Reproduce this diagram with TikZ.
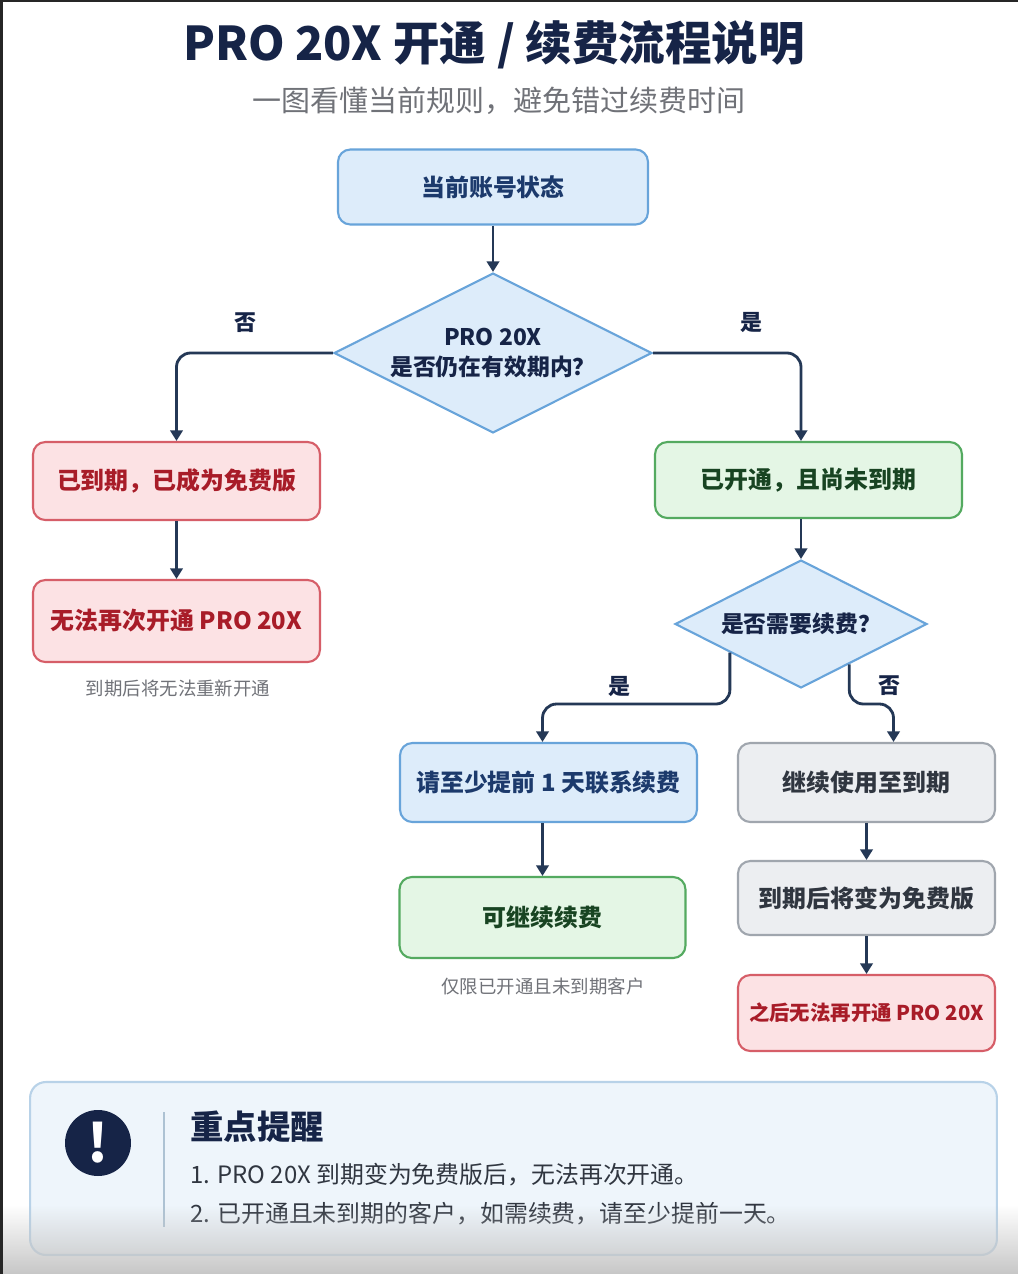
\documentclass[tikz,border=0pt]{standalone}
\usepackage{fontspec}
\setmainfont{Noto Sans CJK SC}
\usepackage{tikz}
\usetikzlibrary{shapes.geometric,arrows.meta,calc,fadings}

\definecolor{navy}{RGB}{22,36,71}
\definecolor{flowline}{RGB}{36,56,86}
\definecolor{fillblue}{RGB}{221,236,250}
\definecolor{lineblue}{RGB}{104,164,218}
\definecolor{txtblue}{RGB}{28,58,108}
\definecolor{fillred}{RGB}{252,226,228}
\definecolor{linered}{RGB}{214,94,104}
\definecolor{txtred}{RGB}{168,28,40}
\definecolor{fillgreen}{RGB}{228,246,229}
\definecolor{linegreen}{RGB}{84,170,96}
\definecolor{txtgreen}{RGB}{24,68,34}
\definecolor{fillgray}{RGB}{236,238,241}
\definecolor{linegray}{RGB}{160,166,174}
\definecolor{txtgray}{RGB}{48,54,64}
\definecolor{notegray}{RGB}{112,114,120}
\definecolor{fillpanel}{RGB}{238,245,251}
\definecolor{linepanel}{RGB}{184,210,232}

\tikzset{
  box/.style={rectangle, rounded corners=7pt, line width=1.2pt, align=center,
    font=\bfseries\fontsize{13.6}{16}\selectfont},
  bluebox/.style={box, draw=lineblue, fill=fillblue, text=txtblue},
  redbox/.style={box, draw=linered, fill=fillred, text=txtred},
  greenbox/.style={box, draw=linegreen, fill=fillgreen, text=txtgreen},
  graybox/.style={box, draw=linegray, fill=fillgray, text=txtgray},
  qdiamond/.style={diamond, aspect=2, inner sep=0pt, line width=1.2pt, draw=lineblue,
    fill=fillblue, text=navy, align=center, font=\bfseries\fontsize{13}{17.6}\selectfont},
  flow/.style={draw=flowline, line width=1.6pt, rounded corners=8pt,
    -{Triangle[length=6pt,width=7pt]}},
  branch/.style={text=navy, font=\bfseries\fontsize{12.5}{14}\selectfont},
  note/.style={text=notegray, font=\fontsize{10.5}{12}\selectfont},
  tip/.style={anchor=west, inner sep=0pt, text=txtgray, font=\fontsize{13.6}{16}\selectfont}
}

\begin{document}
\begin{tikzpicture}[x=0.02cm, y=-0.02cm]
  \useasboundingbox (0,0) rectangle (1018,1274);
  \fill[white] (0,0) rectangle (1018,1274);
  \fill[black!85] (0,0) rectangle (3,1274);
  \fill[black!85] (0,0) rectangle (1018,2);

  \node[text=navy, font=\bfseries\fontsize{26.5}{30}\selectfont] (title) at (494,45) {PRO 20X 开通 / 续费流程说明};
  \node[text=notegray, font=\fontsize{16.5}{20}\selectfont] (subtitle) at (499,101) {一图看懂当前规则，避免错过续费时间};

  \node[bluebox, minimum width=6.2cm, minimum height=1.5cm] (state) at (493,187) {当前账号状态};
  \node[qdiamond, minimum width=6.36cm, minimum height=3.2cm] (valid) at (493,353) {PRO 20X\\是否仍在有效期内？};
  \node[redbox, minimum width=5.74cm, minimum height=1.56cm] (expired) at (176.5,481) {已到期，已成为免费版};
  \node[redbox, minimum width=5.74cm, minimum height=1.64cm] (noreopen) at (176.5,621) {无法再次开通 PRO 20X};
  \node[note] (note1) at (178,688) {到期后将无法重新开通};
  \node[greenbox, minimum width=6.14cm, minimum height=1.52cm] (active) at (808.5,480) {已开通，且尚未到期};
  \node[qdiamond, minimum width=5.04cm, minimum height=2.56cm] (renewq) at (801,624) {是否需要续费？};
  \node[bluebox, minimum width=5.94cm, minimum height=1.58cm] (contact) at (548.5,782.5) {请至少提前 1 天联系续费};
  \node[greenbox, minimum width=5.72cm, minimum height=1.62cm] (canrenew) at (542.5,917.5) {可继续续费};
  \node[note] (note2) at (543,986) {仅限已开通且未到期客户};
  \node[graybox, minimum width=5.14cm, minimum height=1.58cm] (keepuse) at (866.5,782.5) {继续使用至到期};
  \node[graybox, minimum width=5.14cm, minimum height=1.48cm] (tofree) at (866.5,898) {到期后将变为免费版};
  \node[redbox, minimum width=5.14cm, minimum height=1.52cm, font=\bfseries\fontsize{11.6}{14}\selectfont] (closed) at (866.5,1013) {之后无法再开通 PRO 20X};

  \node[branch] (nolabel) at (245,323) {否};
  \node[branch] (yeslabel) at (751,323) {是};
  \node[branch] (yeslabel2) at (619,686) {是};
  \node[branch] (nolabel2) at (889,686) {否};

  \coordinate (yesout) at ($(renewq.south)!0.56!(renewq.west)$);
  \coordinate (noout) at ($(renewq.south)!0.38!(renewq.east)$);

  \draw[flow] (state) -- (valid);
  \draw[flow] (valid.west) -| (expired.north);
  \draw[flow] (valid.east) -| (renewq.north |- active.north);
  \draw[flow] (expired) -- (noreopen);
  \draw[flow] (active.south -| renewq.north) -- (renewq.north);
  \draw[flow] (yesout) -- (yesout |- 0,704) -| (canrenew.north |- contact.north);
  \draw[flow] (noout) -- (noout |- 0,704) -| ($(keepuse.north)+(27,0)$);
  \draw[flow] (canrenew.north |- contact.south) -- (canrenew.north);
  \draw[flow] (keepuse) -- (tofree);
  \draw[flow] (tofree) -- (closed);

  \node[rectangle, rounded corners=9pt, line width=1.2pt, draw=linepanel, fill=fillpanel,
    minimum width=19.34cm, minimum height=3.46cm] (panel) at (513.5,1168.5) {};
  \node[circle, fill=navy, minimum size=1.32cm, inner sep=0pt, text=white,
    font=\bfseries\fontsize{30}{30}\selectfont] (alert) at (98,1143) {!};
  \draw[linepanel!80!gray, line width=1pt] (164,1112) -- (164,1227);
  \node[tip, text=navy, font=\bfseries\fontsize{19}{22}\selectfont] (remind) at (190,1127) {重点提醒};
  \node[tip] (tip1) at (190,1175) {1. PRO 20X 到期变为免费版后，无法再次开通。};
  \node[tip] (tip2) at (190,1214) {2. 已开通且未到期的客户，如需续费，请至少提前一天。};

  \fill[black!22, path fading=north] (3,1205) rectangle (1018,1274);
\end{tikzpicture}
\end{document}
